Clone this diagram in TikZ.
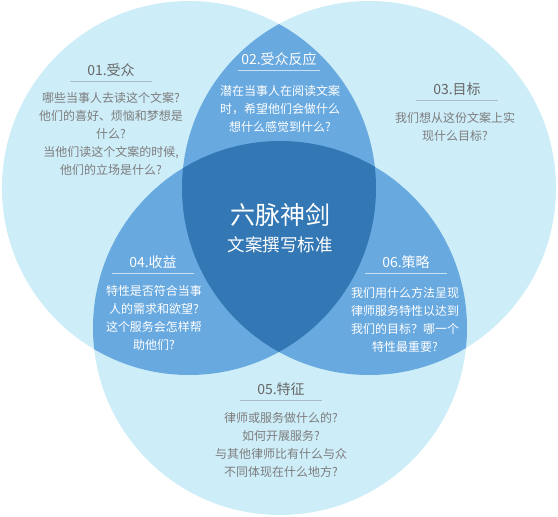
\documentclass[tikz,border=0pt]{standalone}
\usepackage{fontspec}
\setmainfont{Noto Sans CJK SC}
\definecolor{vennLight}{HTML}{CDEDF8}
\definecolor{vennMid}{HTML}{68A9E0}
\definecolor{vennDark}{HTML}{3378B4}
\definecolor{vennHead}{HTML}{666666}
\definecolor{vennText}{HTML}{7D7D7D}
\definecolor{vennRule}{HTML}{A8BDC9}
\definecolor{vennRuleW}{HTML}{C9DFF2}

\begin{document}
\begin{tikzpicture}[x=1pt,y=-1pt,
  head/.style={text width=82pt,inner xsep=0pt,minimum height=23pt,
               align=center,font=\fontsize{14}{16}\selectfont,text=vennHead},
  body/.style={align=center,inner sep=0pt,
               font=\fontsize{12}{18}\selectfont,text=vennText},
  onmid/.style={text=white},
  rule/.style={draw=vennRule,line width=0.8pt},
  rulew/.style={draw=vennRuleW,line width=0.8pt}]
  \useasboundingbox (0,0) rectangle (558,517);
  \coordinate (cL) at (189,188);
  \coordinate (cR) at (369,188);
  \coordinate (cB) at (280,328);
  % three circles
  \fill[vennLight] (cL) circle[radius=187];
  \fill[vennLight] (cR) circle[radius=187];
  \fill[vennLight] (cB) circle[radius=187];
  % pairwise overlaps
  \begin{scope}
    \clip (cL) circle[radius=187];
    \fill[vennMid] (cR) circle[radius=187];
    \fill[vennMid] (cB) circle[radius=187];
  \end{scope}
  \begin{scope}
    \clip (cR) circle[radius=187];
    \fill[vennMid] (cB) circle[radius=187];
  \end{scope}
  % common part
  \begin{scope}
    \clip (cL) circle[radius=187];
    \clip (cR) circle[radius=187];
    \fill[vennDark] (cB) circle[radius=187];
  \end{scope}

  % 01
  \node[head] (h1) at (111,70) {01.受众};
  \draw[rule] (h1.south west) -- (h1.south east);
  \node[body] (b1) at (111,134)
    {哪些当事人去读这个文案?\\他们的喜好、烦恼和梦想是\\什么?\\当他们读这个文案的时候,\\他们的立场是什么?};
  % 02
  \node[head,onmid] (h2) at (279,59) {02.受众反应};
  \draw[rulew] (h2.south west) -- (h2.south east);
  \node[body,onmid] (b2) at (280,109)
    {潜在当事人在阅读文案\\时，希望他们会做什么\\想什么感觉到什么?};
  % 03
  \node[head] (h3) at (457,89) {03.目标};
  \draw[rule] (h3.south west) -- (h3.south east);
  \node[body] (b3) at (455,126.5)
    {我们想从这份文案上实\\现什么目标?};
  % 04
  \node[head,onmid] (h4) at (153,262) {04.收益};
  \draw[rulew] (h4.south west) -- (h4.south east);
  \node[body,onmid] (b4) at (154,318)
    {特性是否符合当事\\人的需求和欲望?\\这个服务会怎样帮\\助他们?};
  % 06
  \node[head,onmid] (h6) at (406,262) {06.策略};
  \draw[rulew] (h6.south west) -- (h6.south east);
  \node[body,onmid] (b6) at (405,319.5)
    {我们用什么方法呈现\\律师服务特性以达到\\我们的目标？哪一个\\特性最重要?};
  % 05
  \node[head] (h5) at (281,389) {05.特征};
  \draw[rule] (h5.south west) -- (h5.south east);
  \node[body] (b5) at (281,444.5)
    {律师或服务做什么的?\\如何开展服务?\\与其他律师比有什么与众\\不同体现在什么地方?};

  % centre
  \node[text=white,font=\fontsize{25}{28}\selectfont] (title) at (280,215) {六脉神剑};
  \node[text=white,font=\fontsize{17.5}{20}\selectfont] (subtitle) at (280,245) {文案撰写标准};
\end{tikzpicture}
\end{document}
